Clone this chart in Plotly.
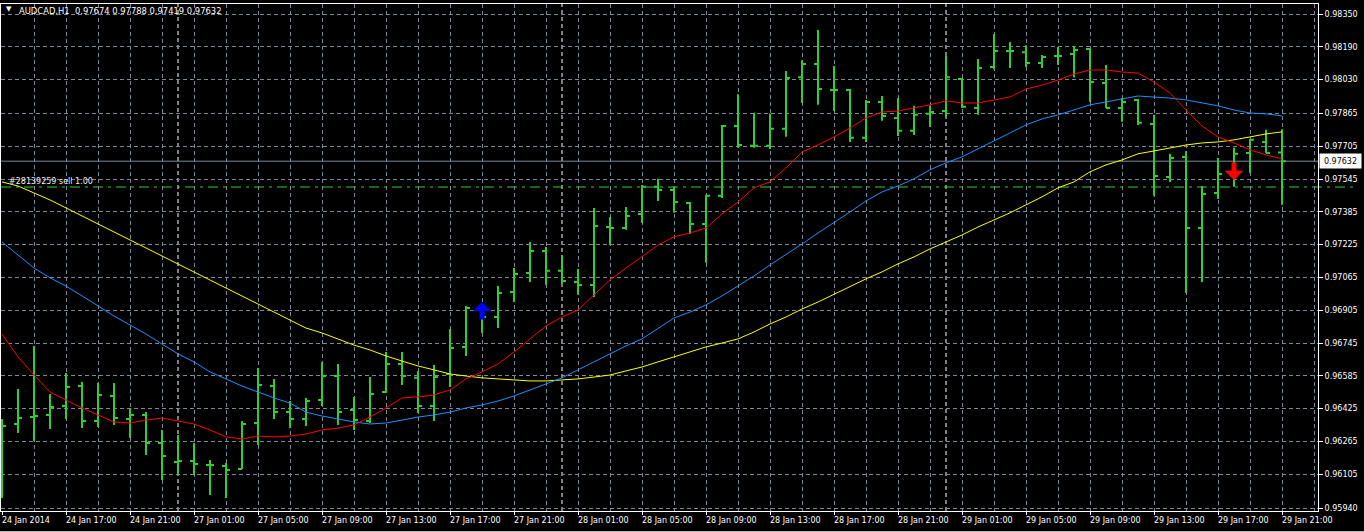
import plotly.graph_objects as go

symbol = "AUDCAD,H1"

time_labels = ["24 Jan 2014", "24 Jan 17:00", "24 Jan 21:00", "27 Jan 01:00", "27 Jan 05:00",
               "27 Jan 09:00", "27 Jan 13:00", "27 Jan 17:00", "27 Jan 21:00", "28 Jan 01:00",
               "28 Jan 05:00", "28 Jan 09:00", "28 Jan 13:00", "28 Jan 17:00", "28 Jan 21:00",
               "29 Jan 01:00", "29 Jan 05:00", "29 Jan 09:00", "29 Jan 13:00", "29 Jan 17:00",
               "29 Jan 21:00"]
label_step = 4  # one label every 4 hourly bars

opens = [0.96321, 0.96350, 0.96384, 0.96394, 0.96438, 0.96535, 0.96365, 0.96487, 0.96374, 0.96394,
         0.96257, 0.96165, 0.96169, 0.96150, 0.96145, 0.96130, 0.96355, 0.96535, 0.96408, 0.96374,
         0.96467, 0.96584, 0.96418, 0.96365, 0.96506, 0.96643, 0.96575, 0.96438, 0.96594, 0.96726,
         0.96916, 0.96872, 0.96994, 0.97087, 0.97194, 0.97097, 0.97043, 0.97028, 0.97311, 0.97306,
         0.97375, 0.97507, 0.97492, 0.97428, 0.97326, 0.97463, 0.97804, 0.97707, 0.97707, 0.97790,
         0.98042, 0.98106, 0.97979, 0.97979, 0.97746, 0.97921, 0.97843, 0.97780, 0.97863, 0.97877,
         0.98033, 0.97892, 0.98091, 0.98169, 0.98164, 0.98111, 0.98145, 0.98155, 0.98179, 0.98013,
         0.97892, 0.97931, 0.97814, 0.97555, 0.97653, 0.97306, 0.97477, 0.97570, 0.97672, 0.97726,
         0.97674]
highs = [0.96374, 0.96521, 0.96731, 0.96496, 0.96599, 0.96555, 0.96550, 0.96550, 0.96428, 0.96408,
         0.96321, 0.96296, 0.96257, 0.96174, 0.96160, 0.96365, 0.96623, 0.96570, 0.96462, 0.96477,
         0.96653, 0.96643, 0.96482, 0.96579, 0.96701, 0.96701, 0.96609, 0.96638, 0.96814, 0.96926,
         0.96931, 0.97023, 0.97111, 0.97238, 0.97214, 0.97175, 0.97106, 0.97404, 0.97360, 0.97409,
         0.97516, 0.97546, 0.97507, 0.97433, 0.97468, 0.97809, 0.97959, 0.97868, 0.97863, 0.98072,
         0.98125, 0.98272, 0.98096, 0.97984, 0.97931, 0.97950, 0.97940, 0.97902, 0.97902, 0.98145,
         0.98038, 0.98130, 0.98252, 0.98213, 0.98198, 0.98150, 0.98189, 0.98194, 0.98179, 0.98101,
         0.97940, 0.97935, 0.97858, 0.97668, 0.97682, 0.97511, 0.97648, 0.97697, 0.97741, 0.97785,
         0.97788]
lows = [0.95989, 0.96306, 0.96267, 0.96326, 0.96374, 0.96330, 0.96335, 0.96345, 0.96282, 0.96199,
        0.96077, 0.96106, 0.96101, 0.96004, 0.95989, 0.96130, 0.96247, 0.96374, 0.96330, 0.96340,
        0.96438, 0.96345, 0.96321, 0.96355, 0.96501, 0.96540, 0.96404, 0.96365, 0.96531, 0.96682,
        0.96794, 0.96818, 0.96945, 0.97043, 0.97028, 0.97038, 0.96980, 0.96970, 0.97223, 0.97297,
        0.97331, 0.97438, 0.97380, 0.97277, 0.97136, 0.97453, 0.97697, 0.97697, 0.97692, 0.97751,
        0.97916, 0.97907, 0.97877, 0.97726, 0.97726, 0.97829, 0.97755, 0.97760, 0.97799, 0.97848,
        0.97892, 0.97858, 0.98081, 0.98086, 0.98091, 0.98086, 0.98101, 0.98042, 0.97921, 0.97892,
        0.97824, 0.97809, 0.97463, 0.97531, 0.96989, 0.97043, 0.97448, 0.97507, 0.97575, 0.97672,
        0.97419]
closes = [0.96340, 0.96379, 0.96389, 0.96433, 0.96531, 0.96365, 0.96492, 0.96379, 0.96394, 0.96257,
          0.96194, 0.96169, 0.96155, 0.96150, 0.96126, 0.96350, 0.96540, 0.96408, 0.96374, 0.96462,
          0.96584, 0.96408, 0.96369, 0.96496, 0.96643, 0.96584, 0.96438, 0.96579, 0.96721, 0.96916,
          0.96872, 0.96989, 0.97082, 0.97194, 0.97097, 0.97048, 0.97028, 0.97316, 0.97306, 0.97365,
          0.97507, 0.97492, 0.97433, 0.97326, 0.97463, 0.97804, 0.97711, 0.97707, 0.97790, 0.98038,
          0.98106, 0.97984, 0.97979, 0.97746, 0.97921, 0.97853, 0.97780, 0.97858, 0.97872, 0.98042,
          0.97897, 0.98086, 0.98169, 0.98169, 0.98111, 0.98140, 0.98145, 0.98174, 0.98018, 0.97892,
          0.97921, 0.97819, 0.97560, 0.97648, 0.97306, 0.97472, 0.97570, 0.97668, 0.97736, 0.97672,
          0.97632]

ma_red = [0.96789, 0.96677, 0.96589, 0.96506, 0.96467, 0.96428, 0.96394, 0.96360, 0.96355, 0.96369,
          0.96379, 0.96365, 0.96350, 0.96321, 0.96287, 0.96277, 0.96291, 0.96287, 0.96291, 0.96301,
          0.96321, 0.96330, 0.96345, 0.96384, 0.96428, 0.96477, 0.96482, 0.96492, 0.96516, 0.96570,
          0.96604, 0.96643, 0.96701, 0.96765, 0.96828, 0.96872, 0.96906, 0.96980, 0.97053, 0.97111,
          0.97165, 0.97223, 0.97263, 0.97282, 0.97306, 0.97375, 0.97433, 0.97502, 0.97531, 0.97599,
          0.97677, 0.97711, 0.97751, 0.97794, 0.97843, 0.97872, 0.97877, 0.97892, 0.97907, 0.97926,
          0.97916, 0.97916, 0.97931, 0.97945, 0.97984, 0.98003, 0.98028, 0.98057, 0.98077, 0.98077,
          0.98067, 0.98062, 0.98018, 0.97964, 0.97882, 0.97804, 0.97751, 0.97721, 0.97687, 0.97663,
          0.97643]
ma_blue = [0.97238, 0.97175, 0.97111, 0.97063, 0.97023, 0.96975, 0.96926, 0.96877, 0.96833, 0.96789,
           0.96740, 0.96692, 0.96653, 0.96604, 0.96570, 0.96535, 0.96506, 0.96477, 0.96452, 0.96408,
           0.96389, 0.96374, 0.96360, 0.96350, 0.96355, 0.96369, 0.96384, 0.96394, 0.96408, 0.96428,
           0.96443, 0.96462, 0.96487, 0.96516, 0.96545, 0.96575, 0.96614, 0.96653, 0.96692, 0.96731,
           0.96765, 0.96818, 0.96867, 0.96896, 0.96931, 0.96975, 0.97023, 0.97072, 0.97126, 0.97175,
           0.97228, 0.97282, 0.97331, 0.97384, 0.97438, 0.97482, 0.97511, 0.97546, 0.97590, 0.97624,
           0.97653, 0.97692, 0.97731, 0.97770, 0.97809, 0.97838, 0.97858, 0.97882, 0.97907, 0.97921,
           0.97935, 0.97950, 0.97945, 0.97940, 0.97931, 0.97916, 0.97902, 0.97882, 0.97867, 0.97863,
           0.97853]
ma_yellow = [0.97531, 0.97511, 0.97477, 0.97443, 0.97404, 0.97365, 0.97326, 0.97287, 0.97248, 0.97209,
             0.97170, 0.97131, 0.97092, 0.97053, 0.97014, 0.96975, 0.96935, 0.96896, 0.96857, 0.96818,
             0.96794, 0.96765, 0.96735, 0.96711, 0.96682, 0.96657, 0.96633, 0.96614, 0.96594, 0.96584,
             0.96575, 0.96570, 0.96565, 0.96560, 0.96560, 0.96565, 0.96570, 0.96579, 0.96589, 0.96609,
             0.96628, 0.96653, 0.96677, 0.96701, 0.96726, 0.96745, 0.96765, 0.96799, 0.96838, 0.96872,
             0.96911, 0.96945, 0.96984, 0.97019, 0.97058, 0.97092, 0.97131, 0.97165, 0.97204, 0.97238,
             0.97272, 0.97311, 0.97345, 0.97380, 0.97419, 0.97458, 0.97502, 0.97531, 0.97580, 0.97614,
             0.97638, 0.97668, 0.97682, 0.97697, 0.97711, 0.97721, 0.97726, 0.97736, 0.97751, 0.97765,
             0.97775]

price_ticks = [0.98350, 0.98190, 0.98030, 0.97865, 0.97705, 0.97545, 0.97385, 0.97225,
               0.97065, 0.96905, 0.96745, 0.96585, 0.96425, 0.96265, 0.96105, 0.95940]

current_price = 0.97632
order_price = 0.97506
order_text = "#28139259 sell 1.00"
day_starts = [11, 35, 59]
buy_arrow_bar, buy_arrow_price = 30, 0.96945
sell_arrow_bar, sell_arrow_price = 77, 0.97540

# ---------------------------------------------------------------
GREEN = "#32CD32"
GRID = "#7A8899"
FONT = "DejaVu Sans"
TXT = "#FFFFFF"
DASH = "4px,3px"

bars = list(range(len(opens)))

fig = go.Figure()
fig.add_trace(go.Ohlc(
    x=bars, open=opens, high=highs, low=lows, close=closes,
    increasing=dict(line=dict(color=GREEN, width=2)),
    decreasing=dict(line=dict(color=GREEN, width=2)),
    tickwidth=0.25, hoverinfo="skip", showlegend=False))

for vals, col in [(ma_yellow, "#FFFF00"), (ma_blue, "#1E90FF"), (ma_red, "#FF0000")]:
    fig.add_trace(go.Scatter(x=bars, y=vals, mode="lines", line=dict(color=col, width=1),
                             hoverinfo="skip", showlegend=False))

label_pos = [i * label_step for i in range(len(time_labels))]

shapes = []
for d in day_starts:
    shapes.append(dict(type="line", xref="x", yref="paper", x0=d, x1=d, y0=0, y1=1,
                       line=dict(color="#FFFFFF", width=1, dash=DASH), layer="below"))
shapes.append(dict(type="line", xref="paper", yref="y", x0=0, x1=1, y0=current_price, y1=current_price,
                   line=dict(color="#778899", width=1), layer="below"))
shapes.append(dict(type="line", xref="paper", yref="y", x0=0, x1=1.03, y0=order_price, y1=order_price,
                   line=dict(color=GREEN, width=1, dash="10px,5px,3px,5px"), layer="below"))
shapes.append(dict(type="line", xref="paper", yref="paper", x0=-0.01, x1=1.05, y0=-0.041, y1=-0.041,
                   line=dict(color="#FFFFFF", width=1)))

annotations = []
for pos, lab in zip(label_pos, time_labels):
    annotations.append(dict(x=pos, y=0, xref="x", yref="paper", text=lab, showarrow=False,
                            xanchor="left", yanchor="top", xshift=-2, yshift=-3,
                            font=dict(family=FONT, size=8, color=TXT)))

title_text = (f"{symbol}\u00a0 {opens[-1]:.5f} {highs[-1]:.5f} {lows[-1]:.5f} {closes[-1]:.5f}")
annotations.append(dict(x=0, y=1, xref="paper", yref="paper", text=title_text, showarrow=False,
                        xanchor="left", yanchor="top", xshift=16, yshift=0,
                        font=dict(family=FONT, size=8.4, color=TXT)))
annotations.append(dict(x=0, y=1, xref="paper", yref="paper", text="\u25bc", showarrow=False,
                        xanchor="left", yanchor="top", xshift=3, yshift=1,
                        font=dict(family=FONT, size=7, color=TXT)))
annotations.append(dict(x=0, y=order_price, xref="paper", yref="y", text=order_text, showarrow=False,
                        xanchor="left", yanchor="bottom", xshift=6, yshift=-1,
                        font=dict(family=FONT, size=8, color="#EEEEEE")))
annotations.append(dict(x=1, y=current_price, xref="paper", yref="y", text=f"{current_price:.5f}",
                        showarrow=False, xanchor="left", yanchor="middle", xshift=1,
                        bgcolor="#FFFFFF", width=39, height=12, borderpad=1,
                        font=dict(family=FONT, size=8, color="#000000")))
# trade arrows
annotations.append(dict(x=buy_arrow_bar, y=buy_arrow_price, xref="x", yref="y", text="",
                        showarrow=True, arrowhead=1, arrowsize=0.62, arrowwidth=5,
                        arrowcolor="#0000FF", ax=0, ay=19, standoff=0))
annotations.append(dict(x=sell_arrow_bar, y=sell_arrow_price, xref="x", yref="y", text="",
                        showarrow=True, arrowhead=1, arrowsize=0.62, arrowwidth=5,
                        arrowcolor="#FF0000", ax=0, ay=-19, standoff=0))

fig.update_layout(
    width=1364, height=532,
    margin=dict(l=1, r=46, t=4, b=21, pad=0),
    paper_bgcolor="#000000", plot_bgcolor="#000000",
    showlegend=False,
    shapes=shapes, annotations=annotations,
    xaxis=dict(range=[-0.0625, 82.25], tickmode="array", tickvals=label_pos,
               showticklabels=False, ticks="outside", ticklen=3, tickcolor="#FFFFFF",
               showgrid=True, gridcolor=GRID, gridwidth=1, griddash=DASH,
               minor=dict(tickmode="linear", tick0=0, dtick=2, showgrid=True, gridcolor=GRID,
                          gridwidth=1, griddash=DASH, ticks=""),
               zeroline=False, showline=True, mirror=True, linecolor="#FFFFFF", linewidth=1,
               rangeslider=dict(visible=False), fixedrange=True),
    yaxis=dict(range=[0.959256, 0.983988], side="right", tickmode="array", tickvals=price_ticks,
               ticktext=[f"{v:.5f}" for v in price_ticks],
               ticks="outside", ticklen=4, tickcolor="#FFFFFF",
               tickfont=dict(family=FONT, size=8, color=TXT),
               showgrid=True, gridcolor=GRID, gridwidth=1, griddash=DASH,
               zeroline=False, showline=True, mirror=True, linecolor="#FFFFFF", linewidth=1,
               fixedrange=True),
)

fig.write_html("out.html", config={"displayModeBar": False},
               post_script="document.body.style.margin='0';document.body.style.background='#000';")
